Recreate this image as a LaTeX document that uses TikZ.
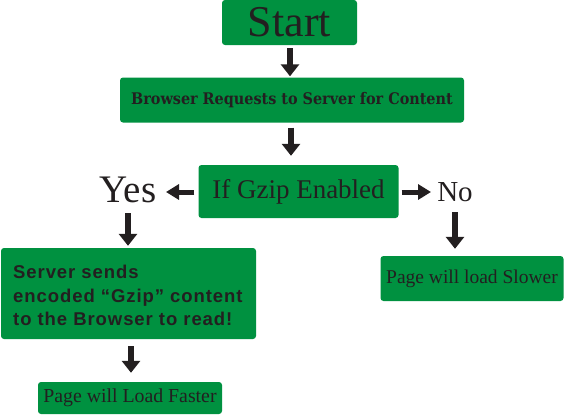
\documentclass[tikz,border=0pt]{standalone}
\usepackage{fontspec}
\setmainfont{Liberation Serif}
\newfontfamily\slabfont{DejaVu Serif Condensed}
\newfontfamily\boxsans[LetterSpace=5]{Liberation Sans}
\usetikzlibrary{arrows.meta}
\definecolor{boxgreen}{RGB}{0,145,64}
\definecolor{ink}{RGB}{35,31,32}
\begin{document}
\begin{tikzpicture}[x=1pt,y=-1pt,
  gbox/.style={fill=boxgreen, rounded corners=3pt, inner sep=0pt, text=ink, align=center},
  lbl/.style={inner sep=0pt, text=ink},
  bigarrow/.style={draw=ink, line width=6.5pt, -{Triangle[width=18pt,length=12pt]}},
  sidearrow/.style={draw=ink, line width=5pt, -{Triangle[width=15pt,length=13pt]}}]
\useasboundingbox (0,0) rectangle (565,415);
\node[gbox, minimum width=135pt, minimum height=45pt, font=\fontsize{44}{44}\selectfont] (start) at (289.5,22.5) {Start};
\node[gbox, minimum width=344pt, minimum height=45pt, font=\slabfont\bfseries\fontsize{16}{16}\selectfont] (req) at (292,100) {Browser Requests to Server for Content};
\node[gbox, minimum width=200pt, minimum height=53pt, font=\fontsize{27}{27}\selectfont] (gzip) at (298.5,191.5) {If Gzip Enabled};
\node[lbl, font=\fontsize{39}{39}\selectfont] (yes) at (128,190) {Yes};
\node[lbl, font=\fontsize{29}{29}\selectfont] (no) at (455,192) {No};
\node[gbox, minimum width=255pt, minimum height=91pt] (server) at (128.5,293.5) {};
\node[lbl, anchor=west, align=left, font=\boxsans\bfseries\fontsize{18.5}{23.5}\selectfont] (servertext) at (13,295.5) {Server sends\\encoded “Gzip” content\\to the Browser to read!};
\node[gbox, minimum width=183pt, minimum height=45pt, font=\fontsize{19.5}{19.5}\selectfont] (slow) at (472,278.5) {Page will load Slower};
\node[gbox, minimum width=184pt, minimum height=32pt, font=\fontsize{19.8}{19.8}\selectfont] (fast) at (130,398) {Page will Load Faster};
\draw[bigarrow] ([yshift=-3pt]start.south -| 290,0) -- ([yshift=1pt]req.north -| 290,0);
\draw[bigarrow] ([yshift=-5pt]req.south -| 291,0) -- ([yshift=9pt]gzip.north -| 291,0);
\draw[sidearrow] ([xshift=-4pt]gzip.west |- 0,192) -- (166,192);
\draw[sidearrow] ([xshift=3pt]gzip.east |- 0,192) -- (431,192);
\draw[bigarrow] (128,213) -- ([yshift=2pt]server.north -| 128,0);
\draw[bigarrow] (455,212) -- ([yshift=7pt]slow.north -| 455,0);
\draw[bigarrow] ([yshift=-7pt]server.south -| 131,0) -- ([yshift=9pt]fast.north -| 131,0);
\end{tikzpicture}
\end{document}
